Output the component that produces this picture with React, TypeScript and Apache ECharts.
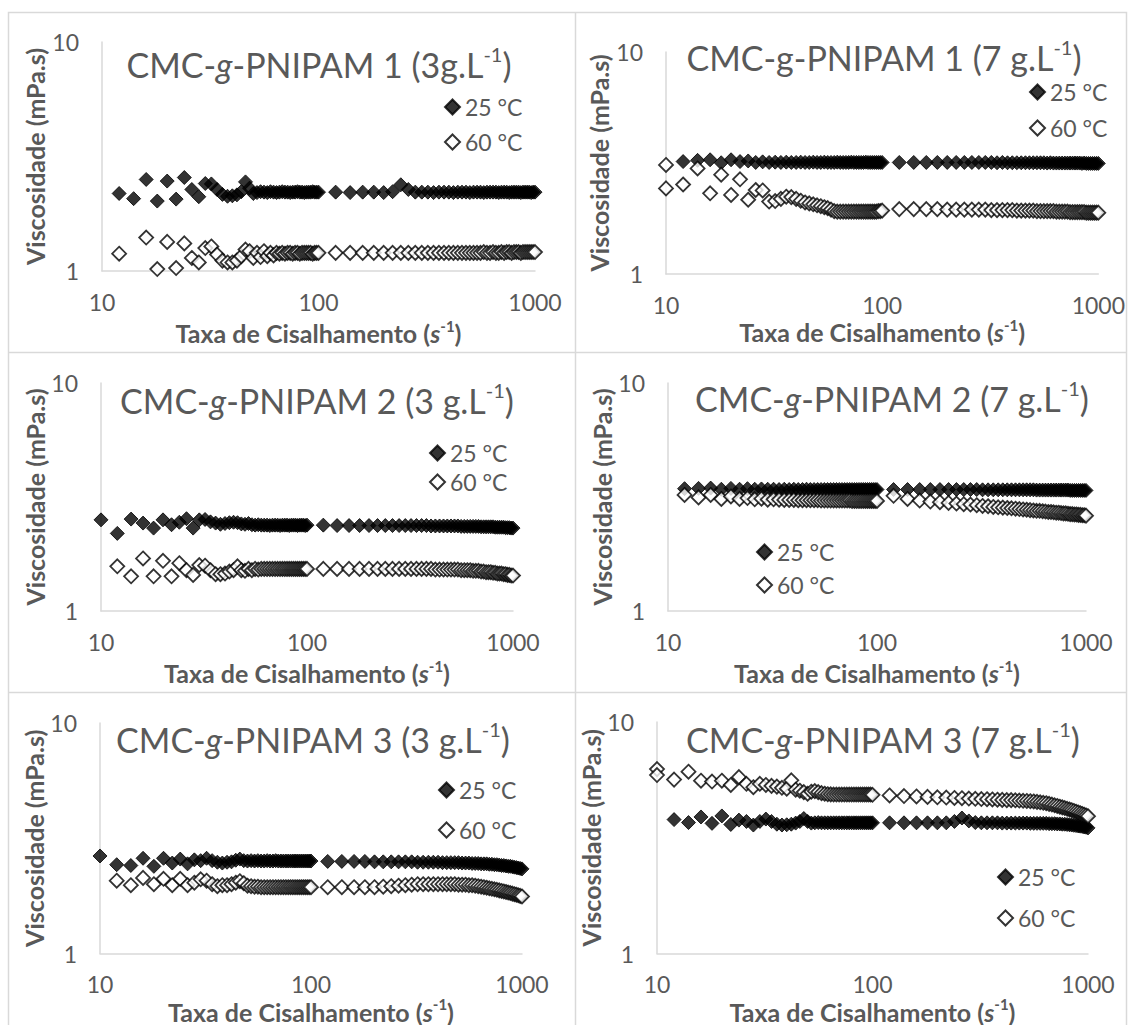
import React, { useEffect, useRef } from "react";
import * as echarts from "echarts";

// Shear-rate grid of the two sweeps (s^-1)
const SHEAR_LOW = [10, 12, 14, 16, 18, 20, 22, 24, 26, 28, 30, 32, 34, 36, 38, 40, 42, 44, 46, 48, 50, 52, 54, 56, 58, 60, 62, 64, 66, 68, 70, 72, 74, 76, 78, 80, 82, 84, 86, 88, 90, 92, 94, 96, 98, 100];
const SHEAR_HIGH = [120, 140, 160, 180, 200, 220, 240, 260, 280, 300, 320, 340, 360, 380, 400, 420, 440, 460, 480, 500, 520, 540, 560, 580, 600, 620, 640, 660, 680, 700, 720, 740, 760, 780, 800, 820, 840, 860, 880, 900, 920, 940, 960, 980, 1000];

const X_TICKS = [10, 100, 1000];
const Y_TICKS = [1, 10];
const SERIES_NAMES = ["25 °C", "60 °C"];

// Viscosity (mPa.s) — CMC-g-PNIPAM 1, 3 g/L
const P1_3_25_LOW = [
  null, 2.18, 2.07, 2.51, 2.02, 2.47, 2.06, 2.56, 2.27, 2.11,
  2.41, 2.40, 2.27, 2.16, 2.12, 2.13, 2.15, 2.22, 2.45, 2.30,
  2.18, 2.20, 2.22, 2.21, 2.20, 2.22, 2.21, 2.20, 2.21, 2.22,
  2.21, 2.21, 2.20, 2.21, 2.21, 2.22, 2.21, 2.21, 2.20, 2.21,
  2.21, 2.21, 2.22, 2.21, 2.21, 2.21];
const P1_3_25_HIGH = [
  2.21, 2.20, 2.21, 2.21, 2.20, 2.22, 2.38, 2.27, 2.21, 2.21,
  2.21, 2.20, 2.21, 2.21, 2.21, 2.20, 2.21, 2.21, 2.21, 2.20,
  2.21, 2.21, 2.21, 2.20, 2.21, 2.21, 2.21, 2.21, 2.20, 2.21,
  2.21, 2.21, 2.20, 2.21, 2.21, 2.21, 2.21, 2.20, 2.21, 2.21,
  2.21, 2.21, 2.20, 2.21, 2.21];
const P1_3_60_LOW = [
  null, 1.19, null, 1.40, 1.02, 1.34, 1.03, 1.32, 1.14, 1.09,
  1.26, 1.28, 1.18, 1.11, 1.09, 1.09, 1.11, 1.16, 1.24, 1.22,
  1.14, 1.20, 1.15, 1.22, 1.16, 1.20, 1.17, 1.20, 1.19, 1.20,
  1.19, 1.20, 1.20, 1.19, 1.20, 1.20, 1.19, 1.20, 1.20, 1.20,
  1.20, 1.20, 1.19, 1.20, 1.20, 1.20];
const P1_3_60_HIGH = [
  1.20, 1.20, 1.20, 1.20, 1.20, 1.20, 1.20, 1.20, 1.20, 1.20,
  1.20, 1.20, 1.20, 1.20, 1.20, 1.20, 1.20, 1.20, 1.20, 1.20,
  1.20, 1.20, 1.20, 1.21, 1.20, 1.20, 1.21, 1.20, 1.20, 1.21,
  1.20, 1.21, 1.21, 1.20, 1.21, 1.21, 1.21, 1.20, 1.21, 1.21,
  1.21, 1.21, 1.21, 1.21, 1.21];

// CMC-g-PNIPAM 1, 7 g/L
const P1_7_25_LOW = [
  null, 3.21, 3.25, 3.27, 3.17, 3.27, 3.21, 3.23, 3.18, 3.20,
  3.18, 3.19, 3.18, 3.19, 3.18, 3.18, 3.19, 3.18, 3.18, 3.19,
  3.18, 3.18, 3.19, 3.18, 3.18, 3.18, 3.19, 3.18, 3.18, 3.18,
  3.18, 3.19, 3.18, 3.18, 3.18, 3.18, 3.18, 3.19, 3.18, 3.18,
  3.18, 3.18, 3.18, 3.18, 3.18, 3.18];
const P1_7_25_HIGH = [
  3.18, 3.18, 3.18, 3.18, 3.18, 3.18, 3.18, 3.18, 3.18, 3.18,
  3.18, 3.17, 3.18, 3.17, 3.17, 3.17, 3.17, 3.17, 3.17, 3.17,
  3.17, 3.17, 3.17, 3.16, 3.17, 3.16, 3.16, 3.16, 3.16, 3.16,
  3.16, 3.16, 3.16, 3.16, 3.16, 3.16, 3.15, 3.16, 3.15, 3.15,
  3.15, 3.15, 3.15, 3.15, 3.15];
const P1_7_60_LOW = [
  2.43, 2.53, 2.99, 2.31, 2.80, 2.27, 2.67, 2.16, 2.39, 2.38,
  2.12, 2.13, 2.18, 2.23, 2.22, 2.18, 2.14, 2.10, 2.08, 2.06,
  2.04, 2.02, 2.00, 1.98, 1.95, 1.92, 1.91, 1.91, 1.91, 1.91,
  1.91, 1.91, 1.91, 1.91, 1.91, 1.91, 1.91, 1.91, 1.91, 1.91,
  1.91, 1.91, 1.91, 1.92, 1.92, 1.93];
const P1_7_60_HIGH = [
  1.96, 1.96, 1.96, 1.96, 1.95, 1.95, 1.95, 1.95, 1.95, 1.95,
  1.94, 1.94, 1.94, 1.94, 1.94, 1.93, 1.93, 1.93, 1.93, 1.93,
  1.92, 1.92, 1.92, 1.92, 1.92, 1.92, 1.91, 1.91, 1.91, 1.91,
  1.91, 1.90, 1.90, 1.90, 1.90, 1.90, 1.90, 1.90, 1.89, 1.89,
  1.89, 1.89, 1.89, 1.89, 1.89];
const P1_7_60_EXTRA = [[10, 3.10]];

// CMC-g-PNIPAM 2, 3 g/L
const P2_3_25_LOW = [
  2.51, 2.19, 2.53, 2.43, 2.31, 2.51, 2.39, 2.45, 2.54, 2.31,
  2.51, 2.52, 2.46, 2.43, 2.40, 2.42, 2.44, 2.45, 2.44, 2.41,
  2.40, 2.42, 2.39, 2.38, 2.39, 2.38, 2.38, 2.38, 2.37, 2.38,
  2.38, 2.38, 2.37, 2.38, 2.38, 2.38, 2.37, 2.38, 2.38, 2.38,
  2.37, 2.38, 2.38, 2.38, 2.37, 2.38];
const P2_3_25_HIGH = [
  2.38, 2.37, 2.37, 2.37, 2.37, 2.37, 2.37, 2.37, 2.37, 2.37,
  2.37, 2.37, 2.37, 2.37, 2.36, 2.36, 2.36, 2.36, 2.36, 2.36,
  2.36, 2.36, 2.35, 2.35, 2.35, 2.35, 2.35, 2.35, 2.35, 2.34,
  2.34, 2.34, 2.34, 2.34, 2.34, 2.33, 2.33, 2.33, 2.33, 2.33,
  2.32, 2.32, 2.32, 2.31, 2.31];
const P2_3_60_LOW = [
  null, 1.57, 1.42, 1.70, 1.42, 1.66, 1.42, 1.62, 1.51, 1.44,
  1.59, 1.58, 1.51, 1.45, 1.45, 1.46, 1.49, 1.51, 1.57, 1.51,
  1.50, 1.53, 1.51, 1.53, 1.52, 1.53, 1.53, 1.53, 1.53, 1.53,
  1.53, 1.53, 1.53, 1.53, 1.53, 1.53, 1.53, 1.53, 1.53, 1.53,
  1.53, 1.53, 1.53, 1.53, 1.53, 1.53];
const P2_3_60_HIGH = [
  1.53, 1.53, 1.53, 1.53, 1.53, 1.53, 1.53, 1.53, 1.53, 1.53,
  1.53, 1.53, 1.53, 1.53, 1.53, 1.52, 1.52, 1.52, 1.52, 1.52,
  1.52, 1.52, 1.51, 1.51, 1.51, 1.51, 1.50, 1.50, 1.50, 1.49,
  1.49, 1.48, 1.48, 1.48, 1.47, 1.47, 1.46, 1.46, 1.46, 1.45,
  1.45, 1.44, 1.44, 1.43, 1.43];

// CMC-g-PNIPAM 2, 7 g/L
const P2_7_25_LOW = [
  null, 3.44, 3.45, 3.46, 3.42, 3.45, 3.42, 3.44, 3.42, 3.43,
  3.42, 3.42, 3.41, 3.42, 3.41, 3.42, 3.41, 3.41, 3.42, 3.41,
  3.41, 3.41, 3.41, 3.41, 3.41, 3.41, 3.41, 3.41, 3.41, 3.41,
  3.41, 3.41, 3.41, 3.41, 3.41, 3.41, 3.41, 3.41, 3.41, 3.41,
  3.41, 3.41, 3.41, 3.41, 3.41, 3.41];
const P2_7_25_HIGH = [
  3.41, 3.41, 3.41, 3.41, 3.41, 3.41, 3.41, 3.41, 3.41, 3.41,
  3.40, 3.40, 3.40, 3.40, 3.40, 3.40, 3.40, 3.40, 3.40, 3.40,
  3.40, 3.40, 3.40, 3.39, 3.39, 3.39, 3.39, 3.39, 3.39, 3.39,
  3.39, 3.39, 3.39, 3.39, 3.39, 3.39, 3.38, 3.38, 3.38, 3.38,
  3.38, 3.38, 3.38, 3.38, 3.38];
const P2_7_60_LOW = [
  null, 3.23, 3.15, 3.23, 3.10, 3.18, 3.10, 3.13, 3.09, 3.11,
  3.08, 3.09, 3.08, 3.07, 3.07, 3.07, 3.06, 3.06, 3.06, 3.06,
  3.06, 3.06, 3.05, 3.05, 3.05, 3.05, 3.05, 3.05, 3.05, 3.05,
  3.05, 3.05, 3.05, 3.04, 3.04, 3.04, 3.04, 3.04, 3.04, 3.04,
  3.04, 3.04, 3.04, 3.04, 3.04, 3.04];
const P2_7_60_HIGH = [
  3.20, 3.10, 3.05, 3.02, 3.00, 2.98, 2.96, 2.94, 2.93, 2.91,
  2.89, 2.88, 2.86, 2.85, 2.84, 2.83, 2.82, 2.81, 2.80, 2.79,
  2.78, 2.77, 2.76, 2.75, 2.75, 2.74, 2.73, 2.72, 2.72, 2.71,
  2.70, 2.70, 2.69, 2.68, 2.68, 2.67, 2.66, 2.66, 2.65, 2.65,
  2.64, 2.64, 2.63, 2.63, 2.62];

// CMC-g-PNIPAM 3, 3 g/L
const P3_3_25_LOW = [
  2.65, 2.43, 2.41, 2.59, 2.39, 2.59, 2.47, 2.57, 2.45, 2.55,
  2.53, 2.59, 2.53, 2.49, 2.47, 2.49, 2.50, 2.54, 2.57, 2.53,
  2.52, 2.53, 2.52, 2.53, 2.52, 2.52, 2.53, 2.52, 2.52, 2.53,
  2.52, 2.52, 2.52, 2.52, 2.52, 2.52, 2.52, 2.52, 2.52, 2.52,
  2.52, 2.52, 2.52, 2.52, 2.52, 2.52];
const P3_3_25_HIGH = [
  2.51, 2.51, 2.51, 2.51, 2.50, 2.50, 2.50, 2.50, 2.50, 2.50,
  2.49, 2.49, 2.49, 2.49, 2.49, 2.48, 2.48, 2.48, 2.48, 2.48,
  2.47, 2.47, 2.47, 2.46, 2.46, 2.46, 2.45, 2.45, 2.45, 2.44,
  2.44, 2.43, 2.43, 2.42, 2.41, 2.41, 2.40, 2.39, 2.39, 2.38,
  2.37, 2.36, 2.35, 2.34, 2.33];
const P3_3_60_LOW = [
  null, 2.07, 1.98, 2.13, 2.00, 2.11, 1.98, 2.11, 1.98, 2.03,
  2.10, 2.07, 2.00, 1.96, 1.98, 1.98, 2.00, 2.03, 2.06, 2.02,
  1.97, 1.96, 1.95, 1.95, 1.94, 1.94, 1.94, 1.94, 1.94, 1.94,
  1.94, 1.94, 1.94, 1.94, 1.94, 1.94, 1.94, 1.94, 1.94, 1.94,
  1.94, 1.94, 1.94, 1.94, 1.94, 1.94];
const P3_3_60_HIGH = [
  1.94, 1.94, 1.94, 1.94, 1.94, 1.95, 1.96, 1.97, 1.98, 1.99,
  2.00, 2.00, 2.00, 2.00, 2.00, 2.00, 2.00, 2.00, 2.00, 1.99,
  1.99, 1.99, 1.98, 1.98, 1.97, 1.96, 1.95, 1.94, 1.93, 1.92,
  1.91, 1.90, 1.89, 1.88, 1.87, 1.86, 1.85, 1.84, 1.83, 1.82,
  1.81, 1.80, 1.79, 1.78, 1.77];

// CMC-g-PNIPAM 3, 7 g/L
const P3_7_25_LOW = [
  null, 3.79, 3.68, 3.89, 3.65, 3.93, 3.61, 3.77, 3.72, 3.59,
  3.72, 3.81, 3.72, 3.62, 3.59, 3.60, 3.62, 3.66, 3.72, 3.83,
  3.72, 3.66, 3.67, 3.68, 3.67, 3.67, 3.67, 3.67, 3.67, 3.67,
  3.67, 3.67, 3.67, 3.67, 3.67, 3.67, 3.67, 3.67, 3.67, 3.67,
  3.67, 3.67, 3.67, 3.67, 3.67, 3.67];
const P3_7_25_HIGH = [
  3.67, 3.67, 3.67, 3.67, 3.67, 3.67, 3.72, 3.85, 3.74, 3.68,
  3.67, 3.67, 3.67, 3.67, 3.66, 3.66, 3.66, 3.66, 3.66, 3.66,
  3.66, 3.65, 3.65, 3.65, 3.65, 3.65, 3.65, 3.64, 3.64, 3.64,
  3.63, 3.63, 3.62, 3.62, 3.61, 3.60, 3.59, 3.58, 3.57, 3.56,
  3.55, 3.54, 3.52, 3.51, 3.49];
const P3_7_60_LOW = [
  5.90, 5.64, 6.10, 5.58, 5.53, 5.58, 5.35, 5.78, 5.41, 5.23,
  5.41, 5.35, 5.30, 5.26, 5.20, 5.15, 5.60, 5.10, 5.05, 4.98,
  4.90, 5.00, 5.03, 4.98, 4.93, 4.90, 4.88, 4.87, 4.86, 4.86,
  4.86, 4.86, 4.86, 4.86, 4.86, 4.86, 4.86, 4.86, 4.86, 4.86,
  4.86, 4.86, 4.86, 4.86, 4.86, 4.85];
const P3_7_60_HIGH = [
  4.82, 4.79, 4.77, 4.75, 4.73, 4.72, 4.70, 4.69, 4.67, 4.66,
  4.65, 4.64, 4.63, 4.62, 4.61, 4.60, 4.60, 4.59, 4.58, 4.57,
  4.56, 4.55, 4.54, 4.52, 4.50, 4.48, 4.46, 4.43, 4.40, 4.37,
  4.34, 4.31, 4.28, 4.25, 4.22, 4.19, 4.16, 4.13, 4.10, 4.07,
  4.04, 4.01, 3.98, 3.95, 3.92];
const P3_7_60_EXTRA = [[10, 6.26]];

type Pair = [number, number];

function pairs(low: (number | null)[], high: (number | null)[], extra: number[][] = []): Pair[] {
  const out: Pair[] = [];
  extra.forEach((p) => out.push([p[0], p[1]]));
  SHEAR_LOW.forEach((x, i) => { if (low[i] != null) out.push([x, low[i] as number]); });
  SHEAR_HIGH.forEach((x, i) => { if (high[i] != null) out.push([x, high[i] as number]); });
  return out;
}

const FONT = "Lato";
const GREY = "#595959";
const RULE = "#d9d9d9";

const PANELS = [
  { num: "1", conc: "3g.L", italic: true, grid: { left: 102, top: 42, width: 433, height: 229 },
    tx: 319, ty: 64, lg: { left: 444, top: 95, gap: 11 }, xGap: 47, yGap: 55,
    s25: pairs(P1_3_25_LOW, P1_3_25_HIGH), s60: pairs(P1_3_60_LOW, P1_3_60_HIGH) },
  { num: "1", conc: "7 g.L", italic: false, grid: { left: 666, top: 52, width: 433, height: 222 },
    tx: 884, ty: 57, lg: { left: 1029, top: 80, gap: 12 }, xGap: 43, yGap: 55,
    s25: pairs(P1_7_25_LOW, P1_7_25_HIGH), s60: pairs(P1_7_60_LOW, P1_7_60_HIGH, P1_7_60_EXTRA) },
  { num: "2", conc: "3 g.L", italic: true, grid: { left: 101, top: 383, width: 412, height: 228 },
    tx: 317, ty: 400, lg: { left: 429, top: 441, gap: 5 }, xGap: 47, yGap: 54,
    s25: pairs(P2_3_25_LOW, P2_3_25_HIGH), s60: pairs(P2_3_60_LOW, P2_3_60_HIGH) },
  { num: "2", conc: "7 g.L", italic: true, grid: { left: 668, top: 383, width: 418, height: 228 },
    tx: 892, ty: 398, lg: { left: 756, top: 540, gap: 9 }, xGap: 47, yGap: 54,
    s25: pairs(P2_7_25_LOW, P2_7_25_HIGH), s60: pairs(P2_7_60_LOW, P2_7_60_HIGH) },
  { num: "3", conc: "3 g.L", italic: true, grid: { left: 100, top: 723, width: 422, height: 235 },
    tx: 313, ty: 739, lg: { left: 438, top: 778, gap: 16 }, xGap: 40, yGap: 53,
    s25: pairs(P3_3_25_LOW, P3_3_25_HIGH), s60: pairs(P3_3_60_LOW, P3_3_60_HIGH) },
  { num: "3", conc: "7 g.L", italic: true, grid: { left: 657, top: 722, width: 431, height: 235 },
    tx: 883, ty: 739, lg: { left: 997, top: 865, gap: 17 }, xGap: 40, yGap: 46,
    s25: pairs(P3_7_25_LOW, P3_7_25_HIGH), s60: pairs(P3_7_60_LOW, P3_7_60_HIGH, P3_7_60_EXTRA) },
];

function buildOption() {
  // zrender text in the graphic component takes "fill" for its colour
  const titleRich = {
    n: { fontFamily: FONT, fontSize: 34, fill: GREY, lineHeight: 40 },
    i: { fontFamily: FONT, fontSize: 34, fill: GREY, lineHeight: 40, fontStyle: "italic" },
    s: { fontFamily: FONT, fontSize: 20, fill: GREY, lineHeight: 24, verticalAlign: "top" },
  };
  const xNameRich = {
    b: { fontFamily: FONT, fontSize: 25, fontWeight: "bold", color: GREY, lineHeight: 30 },
    i: { fontFamily: FONT, fontSize: 25, fontWeight: "bold", fontStyle: "italic", color: GREY, lineHeight: 30 },
    s: { fontFamily: FONT, fontSize: 15, fontWeight: "bold", color: GREY, lineHeight: 18, verticalAlign: "top" },
  };

  const graphic: any[] = [
    { type: "rect", z: -10, silent: true, shape: { x: 8.5, y: 12.5, width: 1118, height: 1040 }, style: { fill: "none", stroke: RULE, lineWidth: 1.5 } },
    { type: "line", z: -10, silent: true, shape: { x1: 575.5, y1: 12, x2: 575.5, y2: 1025 }, style: { stroke: RULE, lineWidth: 1.5 } },
    { type: "line", z: -10, silent: true, shape: { x1: 8, y1: 352.5, x2: 1127, y2: 352.5 }, style: { stroke: RULE, lineWidth: 1.5 } },
    { type: "line", z: -10, silent: true, shape: { x1: 8, y1: 692.5, x2: 1127, y2: 692.5 }, style: { stroke: RULE, lineWidth: 1.5 } },
  ];

  PANELS.forEach((p) => {
    const g = p.italic ? "{i|g}" : "{n|g}";
    graphic.push({
      type: "text",
      x: p.tx,
      y: p.ty,
      silent: true,
      style: {
        text: `{n|CMC-}${g}{n|-PNIPAM ${p.num} (${p.conc}}{s|-1}{n|)}`,
        rich: titleRich,
        fill: GREY,
        align: "center",
        verticalAlign: "middle",
      },
    });
  });

  const grid = PANELS.map((p) => ({ ...p.grid, containLabel: false }));

  const xAxis = PANELS.map((p, i) => ({
    type: "log",
    logBase: 10,
    gridIndex: i,
    min: X_TICKS[0],
    max: X_TICKS[X_TICKS.length - 1],
    name: "{b|Taxa de Cisalhamento (}{i|s}{s|-1}{b|)}",
    nameLocation: "middle",
    nameGap: p.xGap,
    nameTextStyle: { rich: xNameRich },
    axisLine: { show: true, lineStyle: { color: RULE, width: 1.5 } },
    axisTick: { show: false },
    splitLine: { show: false },
    minorTick: { show: false },
    axisLabel: {
      margin: 19,
      fontFamily: FONT,
      fontSize: 23,
      color: GREY,
      showMinLabel: true,
      showMaxLabel: true,
      formatter: (v: number) => String(Math.round(v)),
    },
  }));

  const yAxis = PANELS.map((p, i) => ({
    type: "log",
    logBase: 10,
    gridIndex: i,
    min: Y_TICKS[0],
    max: Y_TICKS[Y_TICKS.length - 1],
    name: "Viscosidade (mPa.s)",
    nameLocation: "middle",
    nameGap: p.yGap,
    nameRotate: 90,
    nameTextStyle: { fontFamily: FONT, fontSize: 25, fontWeight: "bold", color: GREY },
    axisLine: { show: true, lineStyle: { color: RULE, width: 1.5 } },
    axisTick: { show: false },
    splitLine: { show: false },
    axisLabel: {
      margin: 23,
      fontFamily: FONT,
      fontSize: 23,
      color: GREY,
      showMinLabel: true,
      showMaxLabel: true,
      formatter: (v: number) => String(Math.round(v)),
    },
  }));

  const series: any[] = [];
  PANELS.forEach((p, i) => {
    series.push({
      name: SERIES_NAMES[0],
      type: "scatter",
      xAxisIndex: i,
      yAxisIndex: i,
      symbol: "diamond",
      symbolSize: 14,
      itemStyle: { color: "#000000", borderColor: "#000000", borderWidth: 1 },
      data: p.s25,
    });
    series.push({
      name: SERIES_NAMES[1],
      type: "scatter",
      xAxisIndex: i,
      yAxisIndex: i,
      symbol: "diamond",
      symbolSize: 14,
      itemStyle: { color: "#ffffff", borderColor: "#000000", borderWidth: 1.8 },
      data: p.s60,
    });
  });

  const legend = PANELS.map((p) => ({
    data: SERIES_NAMES,
    left: p.lg.left,
    top: p.lg.top,
    orient: "vertical",
    itemGap: p.lg.gap,
    itemWidth: 15,
    itemHeight: 15,
    selectedMode: false,
    padding: 0,
    textStyle: { fontFamily: FONT, fontSize: 23, color: GREY, lineHeight: 24 },
  }));

  return {
    animation: false,
    backgroundColor: "#ffffff",
    grid,
    xAxis,
    yAxis,
    legend,
    series,
    graphic,
  };
}

export default function App() {
  const ref = useRef<HTMLDivElement>(null);

  useEffect(() => {
    if (!ref.current) return;
    const chart = echarts.init(ref.current, undefined, { renderer: "svg", width: 1128, height: 1025 });
    chart.setOption(buildOption() as any);
    return () => chart.dispose();
  }, []);

  return (
    <div
      ref={ref}
      style={{ position: "absolute", left: 0, top: 0, width: 1128, height: 1025, background: "#ffffff" }}
    />
  );
}
